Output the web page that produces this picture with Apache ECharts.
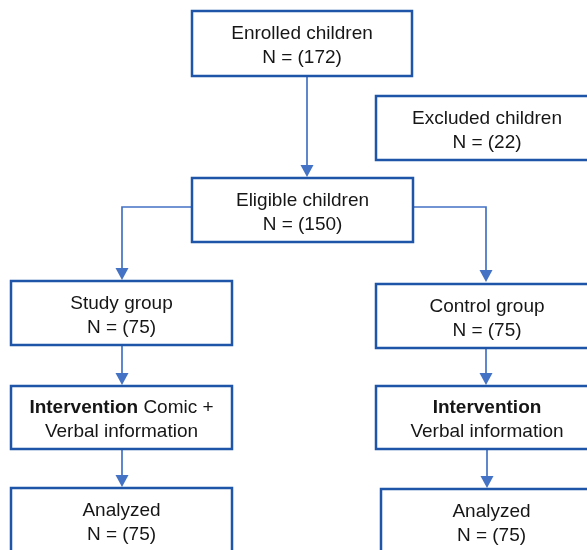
<!DOCTYPE html>
<html>
<head>
<meta charset="utf-8">
<script src="https://cdn.jsdelivr.net/npm/echarts@6/dist/echarts.min.js"></script>
<style>html,body{margin:0;padding:0;background:#fff}#c{width:587px;height:550px}</style>
</head>
<body>
<div id="c"></div>
<script>
// ---- data ----
const stageTitles = ['Enrolled children', 'Excluded children', 'Eligible children', 'Study group', 'Control group', 'Intervention', 'Intervention', 'Analyzed', 'Analyzed'];
const stageDetails = ['', '', '', '', '', 'Comic +', '', '', ''];
const stageSecondLines = ['N = (172)', 'N = (22)', 'N = (150)', 'N = (75)', 'N = (75)', 'Verbal information', 'Verbal information', 'N = (75)', 'N = (75)'];
const boldTitle = [false, false, false, false, false, true, true, false, false];
const flowLinks = [[0, 2], [2, 3], [2, 4], [3, 5], [5, 7], [4, 6], [6, 8]];

// ---- layout (positions/sizes, kept separate from the data) ----
const boxLayout = [
  [192, 11, 220, 65],
  [376, 96, 222, 64],
  [192, 178, 221, 64],
  [11, 281, 221, 64],
  [376, 284, 222, 64],
  [11, 386, 221, 63],
  [376, 386, 222, 63],
  [11, 488, 221, 64],
  [381, 489, 221, 64]
];
// connector paths per link (polyline points, last point is arrow tip)
const linkPaths = [
  [[307, 76], [307, 177]],
  [[192, 207], [122, 207], [122, 280]],
  [[413, 207], [486, 207], [486, 282]],
  [[122, 345], [122, 385]],
  [[122, 449], [122, 487]],
  [[486, 348], [486, 385]],
  [[487, 449], [487, 488]]
];

const FONT = '"Liberation Sans", Arial, sans-serif';
const FS = 19;
const BORDER = '#1f55a8';
const LINE = '#4472c4';

function labelText(i) {
  let first = boldTitle[i] ? '{b|' + stageTitles[i] + '}' : stageTitles[i];
  if (stageDetails[i]) first += ' ' + stageDetails[i];
  return first + '\n' + stageSecondLines[i];
}

const chart = echarts.init(document.getElementById('c'), null, {renderer: 'canvas'});
chart.setOption({
  animation: false,
  grid: {left: 0, right: 0, top: 0, bottom: 0},
  xAxis: {type: 'value', min: 0, max: 587, show: false},
  yAxis: {type: 'value', min: 0, max: 550, inverse: true, show: false},
  series: [
    {
      type: 'custom',
      clip: false,
      data: flowLinks.map((l, i) => [i]),
      renderItem: function (params, api) {
        const idx = api.value(0);
        const pts = linkPaths[idx].map(p => api.coord(p));
        const tip = pts[pts.length - 1];
        const head = 12, half = 6.5;
        const linePts = pts.slice(0, -1).concat([[tip[0], tip[1] - head + 1]]);
        return {
          type: 'group',
          children: [
            {type: 'polyline', shape: {points: linePts}, style: {stroke: LINE, lineWidth: 1.7, fill: null}},
            {type: 'polygon', shape: {points: [[tip[0] - half, tip[1] - head], [tip[0] + half, tip[1] - head], [tip[0], tip[1]]]}, style: {fill: LINE}}
          ]
        };
      }
    },
    {
      type: 'custom',
      clip: false,
      data: stageTitles.map((t, i) => [i]),
      renderItem: function (params, api) {
        const i = api.value(0);
        const b = boxLayout[i];
        const p0 = api.coord([b[0], b[1]]);
        const p1 = api.coord([b[0] + b[2], b[1] + b[3]]);
        const cx = (p0[0] + p1[0]) / 2, cy = (p0[1] + p1[1]) / 2;
        return {
          type: 'group',
          children: [
            {type: 'rect', shape: {x: p0[0], y: p0[1], width: p1[0] - p0[0], height: p1[1] - p0[1]},
             style: {fill: '#fff', stroke: BORDER, lineWidth: 2.5}},
            {type: 'text', x: cx, y: cy + 2.5,
             style: {text: labelText(i), align: 'center', verticalAlign: 'middle', fill: '#161616',
               fontSize: FS, fontFamily: FONT, lineHeight: 24,
               rich: {b: {fontWeight: 'bold', fontSize: FS, fontFamily: FONT, lineHeight: 24, fill: '#161616'}}}}
          ]
        };
      }
    }
  ]
});
</script>
</body>
</html>
